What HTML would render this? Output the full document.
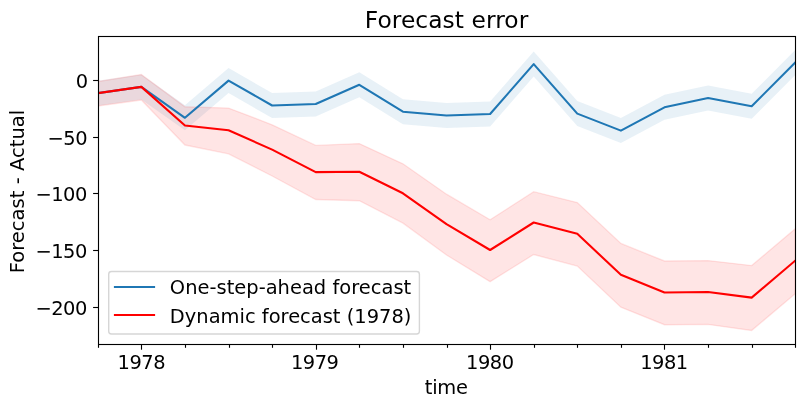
<!DOCTYPE html>
<html lang="en"><head><meta charset="utf-8"><title>Forecast error</title>
<style>html,body{margin:0;padding:0;background:#fff;}svg{display:block;}text{font-family:"DejaVu Sans", "Liberation Sans", sans-serif;fill:#000;}</style></head><body>
<svg width="805" height="407" viewBox="0 0 805 407">
<rect x="0" y="0" width="805" height="407" fill="#ffffff"/>
<defs><clipPath id="ax"><rect x="98.5" y="36.5" width="697.0" height="308.0"/></clipPath></defs>
<g clip-path="url(#ax)">
<polygon points="97.76,80.70 141.35,74.40 184.95,105.30 228.54,68.10 272.14,93.00 315.73,91.50 359.32,72.30 402.92,99.20 446.51,103.00 490.11,101.50 533.70,51.60 577.29,101.10 620.89,118.10 664.48,94.80 708.08,85.50 751.67,93.80 795.26,49.90 795.26,74.90 751.67,118.80 708.08,110.50 664.48,119.80 620.89,143.10 577.29,126.10 533.70,76.60 490.11,126.50 446.51,128.00 402.92,124.20 359.32,97.30 315.73,116.50 272.14,118.00 228.54,93.10 184.95,130.30 141.35,99.40 97.76,105.70" fill="#1f77b4" fill-opacity="0.1" stroke="none"/>
<polygon points="97.76,81.60 141.35,74.60 184.95,106.70 228.54,108.10 272.14,124.80 315.73,145.40 359.32,143.60 402.92,163.80 446.51,194.20 490.11,219.80 533.70,191.70 577.29,202.60 620.89,243.50 664.48,261.00 708.08,260.60 751.67,265.60 795.26,228.70 795.26,293.80 751.67,330.40 708.08,324.40 664.48,324.70 620.89,307.20 577.29,266.10 533.70,254.50 490.11,281.70 446.51,255.00 402.92,223.10 359.32,200.70 315.73,199.50 272.14,176.00 228.54,153.80 184.95,145.00 141.35,100.10 97.76,106.10" fill="#ff0000" fill-opacity="0.1" stroke="#ff0000" stroke-opacity="0.1" stroke-width="1.39" stroke-linejoin="miter"/>
<polyline points="97.76,93.20 141.35,86.90 184.95,117.80 228.54,80.60 272.14,105.50 315.73,104.00 359.32,84.80 402.92,111.70 446.51,115.50 490.11,114.00 533.70,64.10 577.29,113.60 620.89,130.60 664.48,107.30 708.08,98.00 751.67,106.30 795.26,62.40" fill="none" stroke="#1f77b4" stroke-width="2.08" stroke-linejoin="round" stroke-linecap="square"/>
<polyline points="97.76,93.20 141.35,86.90 184.95,125.50 228.54,130.20 272.14,149.60 315.73,172.10 359.32,171.70 402.92,193.30 446.51,224.10 490.11,250.00 533.70,222.50 577.29,233.80 620.89,274.80 664.48,292.50 708.08,292.00 751.67,297.60 795.26,260.60" fill="none" stroke="#ff0000" stroke-width="2.08" stroke-linejoin="round" stroke-linecap="square"/>
</g>
<g stroke="#000" stroke-width="1.11" fill="none">
<line x1="93.10" y1="80.5" x2="98.5" y2="80.5"/>
<line x1="93.10" y1="137.5" x2="98.5" y2="137.5"/>
<line x1="93.10" y1="193.5" x2="98.5" y2="193.5"/>
<line x1="93.10" y1="250.5" x2="98.5" y2="250.5"/>
<line x1="93.10" y1="307.5" x2="98.5" y2="307.5"/>
<line x1="98.5" y1="344.5" x2="98.5" y2="347.80"/>
<line x1="141.5" y1="344.5" x2="141.5" y2="349.70"/>
<line x1="185.5" y1="344.5" x2="185.5" y2="347.80"/>
<line x1="229.5" y1="344.5" x2="229.5" y2="347.80"/>
<line x1="272.5" y1="344.5" x2="272.5" y2="347.80"/>
<line x1="316.5" y1="344.5" x2="316.5" y2="349.70"/>
<line x1="359.5" y1="344.5" x2="359.5" y2="347.80"/>
<line x1="403.5" y1="344.5" x2="403.5" y2="347.80"/>
<line x1="447.5" y1="344.5" x2="447.5" y2="347.80"/>
<line x1="490.5" y1="344.5" x2="490.5" y2="349.70"/>
<line x1="534.5" y1="344.5" x2="534.5" y2="347.80"/>
<line x1="577.5" y1="344.5" x2="577.5" y2="347.80"/>
<line x1="621.5" y1="344.5" x2="621.5" y2="347.80"/>
<line x1="664.5" y1="344.5" x2="664.5" y2="349.70"/>
<line x1="708.5" y1="344.5" x2="708.5" y2="347.80"/>
<line x1="752.5" y1="344.5" x2="752.5" y2="347.80"/>
<line x1="795.5" y1="344.5" x2="795.5" y2="347.80"/>
</g>
<rect x="98.5" y="36.5" width="697.0" height="308.0" fill="none" stroke="#000" stroke-width="1.11" stroke-linejoin="miter"/>
<g font-size="19.44px">
<text x="88.0" y="87.80" text-anchor="end" textLength="12.2">0</text>
<text x="87.5" y="144.80" text-anchor="end" textLength="40.0">−50</text>
<text x="87.4" y="200.80" text-anchor="end" textLength="52.0">−100</text>
<text x="87.4" y="257.80" text-anchor="end" textLength="52.0">−150</text>
<text x="87.4" y="314.80" text-anchor="end" textLength="52.0">−200</text>
<text x="141.5" y="369" text-anchor="middle" textLength="48">1978</text>
<text x="314.9" y="369" text-anchor="middle" textLength="48">1979</text>
<text x="490.1" y="369" text-anchor="middle" textLength="48">1980</text>
<text x="664.2" y="369" text-anchor="middle" textLength="48">1981</text>
<text x="446.4" y="393.7" text-anchor="middle" textLength="43.3">time</text>
<text transform="translate(24.0,273.35) rotate(-90)" text-anchor="start" textLength="163.6">Forecast - Actual</text>
</g>
<text x="364.8" y="28" text-anchor="start" textLength="163.5" font-size="23.33px">Forecast error</text>
<rect x="108.7" y="271.5" width="310.7" height="62.5" rx="2.8" ry="2.8" fill="#ffffff" fill-opacity="0.8" stroke="#cccccc" stroke-opacity="0.8" stroke-width="1.39"/>
<line x1="113.9" y1="287.0" x2="155.1" y2="287.0" stroke="#1f77b4" stroke-width="2.08"/>
<line x1="113.9" y1="315.0" x2="155.1" y2="315.0" stroke="#ff0000" stroke-width="2.08"/>
<g font-size="19.44px">
<text x="169.8" y="293.6" textLength="241.4">One-step-ahead forecast</text>
<text x="169.8" y="322.6" textLength="241.6">Dynamic forecast (1978)</text>
</g>
</svg></body></html>
